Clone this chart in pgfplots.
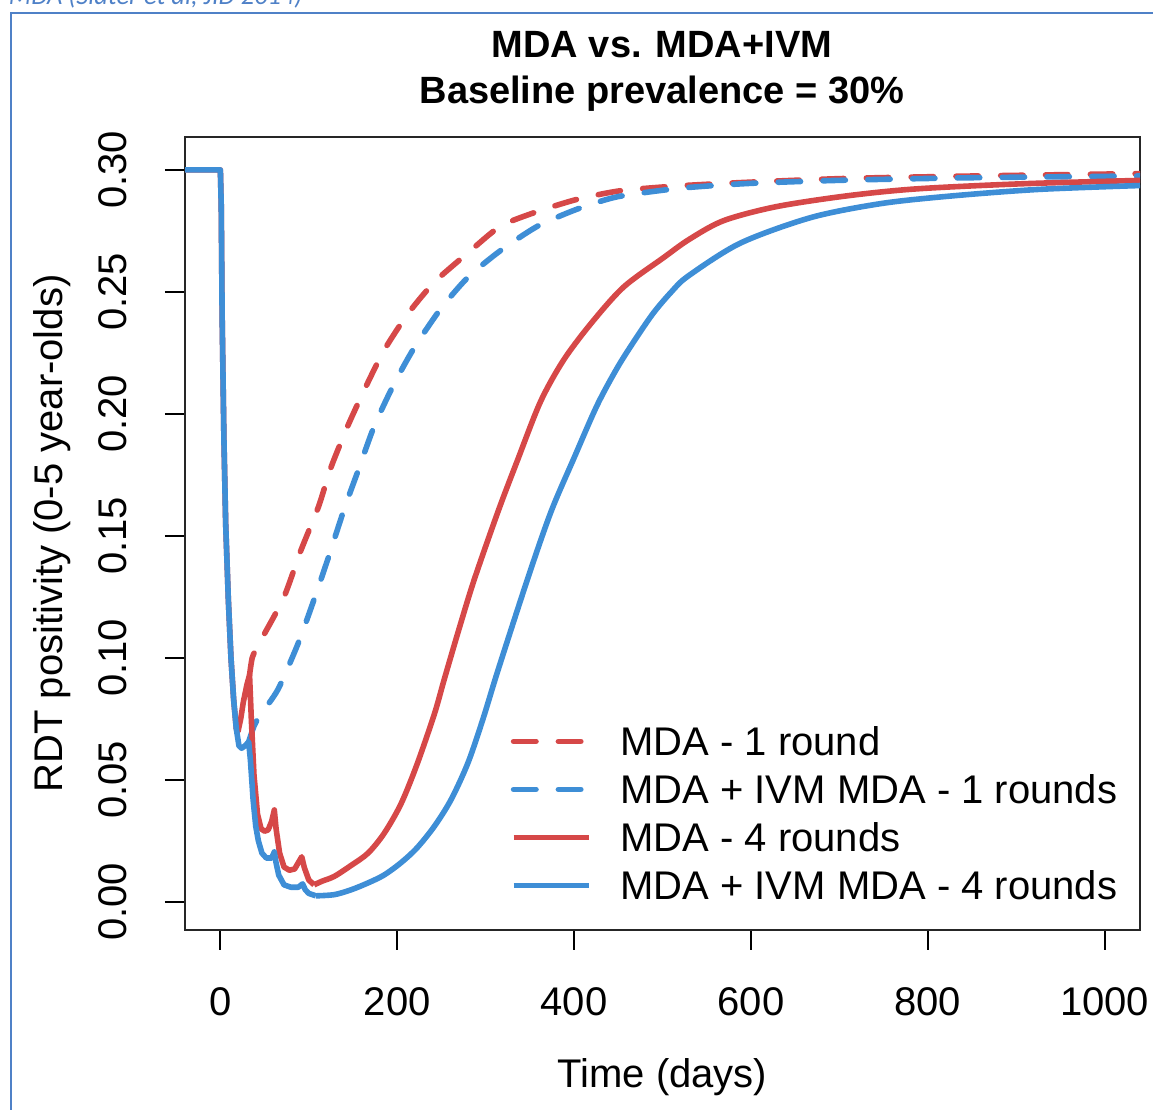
\documentclass[border=0pt]{standalone}
\usepackage{fontspec}
\setmainfont{Liberation Sans}
\newfontfamily\capfont{Carlito}
\usepackage{pgfplots}
\pgfplotsset{compat=1.18}

\definecolor{mdared}{RGB}{214,72,72}
\definecolor{ivmblue}{RGB}{62,142,214}
\definecolor{framebl}{RGB}{79,129,199}

\begin{document}
\begin{tikzpicture}
% page = 1153 x 1110 px at 0.25pt per px
\path[use as bounding box] (0pt,0pt) rectangle (288.25pt,277.5pt);
\draw[framebl, line width=0.55pt] (2.75pt,-5pt) -- (2.75pt,274.25pt) -- (295pt,274.25pt);
\node[anchor=base west, inner sep=0pt, text=framebl, font=\capfont\itshape\fontsize{6.6}{8}\selectfont]
  at (2pt,276.25pt) {MDA (Slater et al, JID 2014)};

\begin{axis}[
  at={(46.25pt,45pt)}, anchor=south west,
  width=238.75pt, height=198.25pt, scale only axis,
  xmin=-40, xmax=1040, ymin=-0.0115, ymax=0.3135,
  xtick={0,200,400,600,800,1000},
  xticklabels={0,200,400,600,800,1000},
  ytick={0,0.05,0.1,0.15,0.2,0.25,0.3},
  yticklabels={0.00,0.05,0.10,0.15,0.20,0.25,0.30},
  tick align=outside, xtick pos=bottom, ytick pos=left,
  major tick length=5pt,
  tick style={black, line width=0.5pt},
  axis line style={black!85, line width=0.6pt},
  xticklabel style={anchor=base, yshift=-16.5pt},
  yticklabel style={xshift=-9.5pt, rotate=90, anchor=base},
  xlabel={Time (days)},
  ylabel={RDT positivity (0-5 year-olds)},
  xlabel style={at={(axis description cs:0.5,0)}, anchor=base, yshift=-39.25pt},
  ylabel style={at={(axis description cs:-0.128,0.5)}, anchor=base},
  legend style={at={(axis description cs:0.3403,0.2585)}, anchor=north west,
    draw=none, fill=none, inner sep=0pt, row sep=0pt,
    nodes={inner sep=0pt, text height=7.5pt, text depth=4.5pt},
    cells={anchor=base west}},
  legend image code/.code={\draw[#1] (0pt,3.6pt) -- (18.75pt,3.6pt); \path (26pt,0pt);},
  every axis plot/.append style={line width=1.4pt, line join=round},
]
% MDA - 1 round
\addplot[mdared, dash pattern=on 5.6pt off 5.6pt, line cap=round, smooth, tension=0.4] coordinates {
(33,0.093) (36,0.100) (42,0.105) (50,0.110) (72,0.125) (91,0.144) (111,0.162)
(125,0.178) (144,0.195) (163,0.210) (185,0.226) (212,0.241) (242,0.254)
(280,0.266) (317,0.277) (359,0.283) (404,0.288) (453,0.2915) (520,0.2935)
(600,0.2950) (707,0.2965) (850,0.2975) (1040,0.2985)};
\addlegendentry{MDA - 1 round}
% MDA + IVM - 1 round
\addplot[ivmblue, dash pattern=on 5.6pt off 5.6pt, line cap=round, smooth, tension=0.4] coordinates {
(32,0.0656) (38,0.072) (44,0.076) (65,0.087) (88,0.106) (106,0.124) (122,0.141)
(140,0.161) (156,0.177) (174,0.195) (196,0.212) (219,0.227) (249,0.243)
(280,0.256) (317,0.267) (359,0.277) (404,0.284) (449,0.289) (520,0.2925)
(600,0.2945) (707,0.2958) (850,0.2968) (1040,0.2975)};
\addlegendentry{MDA + IVM MDA - 1 rounds}
% MDA - 4 rounds
\addplot[mdared] coordinates {
(-40,0.300) (0,0.300) (1,0.285) (2,0.24) (4,0.19) (6,0.155) (9,0.124) (12,0.100)
(15,0.083) (18,0.071) (20,0.070) (23,0.075) (26,0.082) (30,0.089) (33,0.093)
(35,0.075) (38,0.052) (42,0.036) (46,0.030) (50,0.029) (54,0.0295) (58,0.033)
(61,0.0377) (63,0.030) (67,0.020) (72,0.0143) (78,0.013) (84,0.0135) (88,0.016)
(92,0.0185) (95,0.014) (100,0.009) (106,0.007)};
\addlegendentry{MDA - 4 rounds}
\addplot[mdared, smooth, tension=0.5, forget plot] coordinates {
(106,0.007) (115,0.0085) (129,0.0105)
(148,0.015) (167,0.020) (185,0.028) (204,0.040) (222,0.056) (242,0.077)
(253,0.091) (270,0.112) (287,0.132) (314,0.160) (336,0.181) (362,0.205)
(388,0.222) (419,0.237) (456,0.252) (501,0.264) (530,0.2715) (569,0.2792)
(628,0.2849) (707,0.2893) (786,0.2922) (905,0.2943) (1040,0.2957)};
% MDA + IVM - 4 rounds
\addplot[ivmblue] coordinates {
(-40,0.300) (0,0.300) (1,0.285) (2,0.24) (4,0.19) (6,0.155) (9,0.124) (12,0.100)
(15,0.083) (18,0.071) (21,0.064) (24,0.063) (28,0.064) (32,0.0656) (34,0.058)
(37,0.042) (40,0.031) (43,0.025) (47,0.020) (52,0.018) (58,0.018) (61,0.0205)
(63,0.016) (66,0.011) (72,0.007) (80,0.006) (88,0.006) (93,0.0074) (96,0.005)
(100,0.0035) (108,0.0025)};
\addlegendentry{MDA + IVM MDA - 4 rounds}
\addplot[ivmblue, smooth, tension=0.5, forget plot] coordinates {
(108,0.0025) (129,0.003) (148,0.005) (167,0.0078) (185,0.011)
(204,0.016) (222,0.022) (242,0.031) (261,0.042) (280,0.057) (297,0.075)
(314,0.095) (348,0.133) (374,0.160) (400,0.182) (426,0.2035) (449,0.219)
(470,0.231) (490,0.2415) (510,0.250) (529,0.2565) (588,0.2700) (668,0.2805)
(747,0.2862) (826,0.2893) (925,0.2920) (1040,0.2936)};
\end{axis}

\node[anchor=base, inner sep=0pt, font=\bfseries\fontsize{9.5}{11}\selectfont] at (165.5pt,263pt) {MDA vs. MDA+IVM};
\node[anchor=base, inner sep=0pt, font=\bfseries\fontsize{9.5}{11}\selectfont] at (165.5pt,251.5pt) {Baseline prevalence = 30\%};
\end{tikzpicture}
\end{document}
